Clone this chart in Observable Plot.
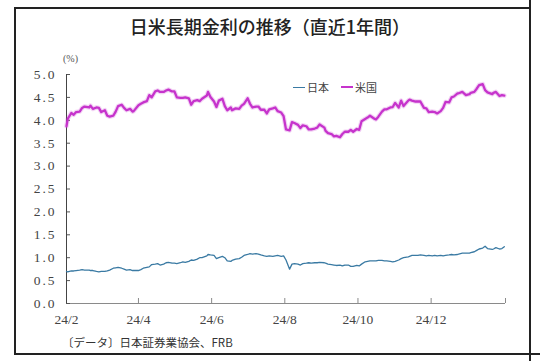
<!DOCTYPE html>
<html>
<head>
<meta charset="utf-8">
<script src="https://cdn.jsdelivr.net/npm/d3@7"></script>
<script src="https://cdn.jsdelivr.net/npm/@observablehq/plot@0.6"></script>
<style>
  html, body { margin: 0; padding: 0; background: #fff; }
  #wrap { position: relative; width: 540px; height: 361px; overflow: hidden; background: #fff; }
  #chart { position: absolute; left: 0; top: 0; }
  .title { position: absolute; left: 0; width: 540px; top: 13px; text-align: center;
           font-family: "Noto Sans CJK JP", sans-serif; font-size: 18px; font-weight: 500; color: #222; line-height: 26px; }
  .caption { position: absolute; left: 62px; top: 334px; font-family: "Noto Sans CJK JP", serif;
             font-size: 11.5px; color: #333; line-height: 16px; }
  .unit { position: absolute; left: 63px; top: 53px; font-family: "Liberation Serif", serif; font-size: 10px; color: #555; }
  .legend { position: absolute; top: 80px; left: 293px; font-family: "Noto Sans CJK JP", sans-serif; font-size: 11px; color: #444;
            display: flex; align-items: center; line-height: 14px; }
  .legend .sw { display: inline-block; width: 12px; margin-right: 2px; }
  .hl { position: absolute; background: #222; }
  #chart text { font-family: "Liberation Serif", "DejaVu Serif", serif; }
  .yax text { letter-spacing: 2px; }
</style>
</head>
<body>
<div id="wrap">
  <div class="hl" style="left:14px; top:7px; width:516px; height:1.5px;"></div>
  <div class="hl" style="left:14px; top:7px; width:1.5px; height:348px;"></div>
  <div class="hl" style="left:529px; top:0px; width:1.5px; height:361px;"></div>
  <div class="hl" style="left:14px; top:353px; width:526px; height:1.5px;"></div>
  <div id="chart"></div>
  <div class="title">日米長期金利の推移（直近1年間）</div>
  <div class="unit">(%)</div>
  <div class="legend" id="legend"></div>
  <div class="caption">〔データ〕日本証券業協会、FRB</div>
</div>
<script>
// ---- data ----
const dates = [
  "2024-02-01","2024-02-02","2024-02-05","2024-02-07","2024-02-09","2024-02-12","2024-02-14","2024-02-16","2024-02-20","2024-02-21","2024-02-23","2024-02-26","2024-02-28",
  "2024-03-01","2024-03-04","2024-03-06","2024-03-08","2024-03-11","2024-03-13","2024-03-15","2024-03-18","2024-03-20","2024-03-22","2024-03-25","2024-03-27","2024-03-28",
  "2024-04-01","2024-04-03","2024-04-05","2024-04-08","2024-04-10","2024-04-12","2024-04-15","2024-04-17","2024-04-19","2024-04-22","2024-04-24","2024-04-26","2024-04-29",
  "2024-05-01","2024-05-03","2024-05-06","2024-05-08","2024-05-10","2024-05-13","2024-05-15","2024-05-17","2024-05-20","2024-05-22","2024-05-24","2024-05-28","2024-05-29","2024-05-31",
  "2024-06-03","2024-06-05","2024-06-07","2024-06-10","2024-06-12","2024-06-14","2024-06-17","2024-06-18","2024-06-21","2024-06-24","2024-06-26","2024-06-28",
  "2024-07-01","2024-07-03","2024-07-05","2024-07-08","2024-07-10","2024-07-12","2024-07-15","2024-07-17","2024-07-19","2024-07-22","2024-07-24","2024-07-26","2024-07-29","2024-07-31",
  "2024-08-02","2024-08-05","2024-08-07","2024-08-09","2024-08-12","2024-08-14","2024-08-16","2024-08-19","2024-08-21","2024-08-23","2024-08-26","2024-08-28","2024-08-30",
  "2024-09-03","2024-09-04","2024-09-06","2024-09-09","2024-09-11","2024-09-13","2024-09-16","2024-09-18","2024-09-20","2024-09-23","2024-09-25","2024-09-27","2024-09-30",
  "2024-10-02","2024-10-04","2024-10-07","2024-10-09","2024-10-11","2024-10-15","2024-10-16","2024-10-18","2024-10-21","2024-10-23","2024-10-25","2024-10-28","2024-10-30",
  "2024-11-01","2024-11-04","2024-11-06","2024-11-08","2024-11-12","2024-11-13","2024-11-15","2024-11-18","2024-11-20","2024-11-22","2024-11-25","2024-11-27","2024-11-29",
  "2024-12-02","2024-12-04","2024-12-06","2024-12-09","2024-12-11","2024-12-13","2024-12-16","2024-12-18","2024-12-20","2024-12-23","2024-12-24","2024-12-27","2024-12-30",
  "2025-01-02","2025-01-03","2025-01-06","2025-01-08","2025-01-10","2025-01-13","2025-01-15","2025-01-17","2025-01-21","2025-01-22","2025-01-24","2025-01-27","2025-01-29","2025-01-31"
];
const usYield = [
  3.87,4.03,4.16,4.12,4.18,4.19,4.27,4.30,4.28,4.32,4.25,4.28,4.27,
  4.18,4.22,4.10,4.08,4.10,4.19,4.31,4.34,4.27,4.22,4.25,4.19,4.20,
  4.33,4.36,4.39,4.42,4.55,4.50,4.63,4.65,4.62,4.62,4.65,4.67,4.63,
  4.63,4.50,4.49,4.49,4.50,4.48,4.34,4.42,4.44,4.42,4.47,4.54,4.62,4.51,
  4.41,4.29,4.43,4.47,4.31,4.22,4.28,4.22,4.26,4.25,4.32,4.36,
  4.48,4.36,4.28,4.30,4.30,4.23,4.23,4.15,4.24,4.26,4.28,4.20,4.17,4.09,
  3.80,3.78,3.96,3.94,3.90,3.83,3.89,3.87,3.80,3.80,3.82,3.84,3.91,
  3.84,3.77,3.72,3.70,3.65,3.66,3.63,3.70,3.75,3.75,3.79,3.75,3.81,
  3.79,3.98,4.03,4.06,4.10,4.03,4.02,4.08,4.19,4.24,4.24,4.28,4.29,
  4.38,4.28,4.43,4.31,4.43,4.45,4.43,4.41,4.41,4.41,4.27,4.26,4.18,
  4.19,4.18,4.15,4.20,4.27,4.40,4.39,4.50,4.52,4.59,4.59,4.62,4.55,
  4.57,4.60,4.62,4.69,4.77,4.79,4.66,4.61,4.57,4.60,4.62,4.53,4.55,4.54
];
const jpYield = [
  0.70,0.69,0.71,0.71,0.72,0.73,0.74,0.73,0.73,0.72,0.72,0.70,0.69,
  0.70,0.70,0.71,0.73,0.77,0.78,0.79,0.77,0.75,0.73,0.74,0.72,0.72,
  0.72,0.74,0.77,0.79,0.80,0.85,0.86,0.87,0.84,0.86,0.89,0.90,0.88,
  0.88,0.87,0.89,0.91,0.90,0.92,0.95,0.94,0.97,1.00,1.00,1.04,1.07,1.06,
  1.05,0.98,1.00,1.03,1.00,0.93,0.92,0.94,0.97,0.98,1.01,1.05,
  1.07,1.09,1.08,1.09,1.08,1.06,1.04,1.03,1.04,1.03,1.04,1.05,1.03,1.04,
  0.95,0.75,0.86,0.87,0.86,0.84,0.87,0.88,0.89,0.88,0.89,0.89,0.90,
  0.89,0.88,0.86,0.85,0.84,0.83,0.84,0.82,0.84,0.84,0.81,0.81,0.83,
  0.82,0.86,0.91,0.92,0.93,0.93,0.93,0.94,0.94,0.93,0.93,0.92,0.91,
  0.92,0.95,0.98,1.00,1.02,1.03,1.05,1.05,1.05,1.06,1.05,1.04,1.05,
  1.04,1.05,1.04,1.05,1.04,1.05,1.06,1.07,1.06,1.07,1.08,1.10,1.10,
  1.10,1.11,1.13,1.16,1.19,1.21,1.25,1.20,1.18,1.19,1.22,1.19,1.20,1.24
];
const seriesNames = ["日本", "米国"];
const seriesColors = ["#3a7aa3", "#c633cc"];
const xTickDates = ["2024-02-01","2024-04-01","2024-06-01","2024-08-01","2024-10-01","2024-12-01","2025-02-01"];
const xTickLabels = ["24/2","24/4","24/6","24/8","24/10","24/12",""];
const yTicks = [0,0.5,1,1.5,2,2.5,3,3.5,4,4.5,5];

// ---- build ----
const parse = d3.utcParse("%Y-%m-%d");
const jp = dates.map((d, i) => ({date: parse(d), v: jpYield[i]}));
const us = dates.map((d, i) => ({date: parse(d), v: usYield[i]}));
const tickD = xTickDates.map(parse);
const labelMap = new Map(tickD.map((d, i) => [+d, xTickLabels[i]]));

const W = 540, H = 361, mL = 66, mR = 35, mT = 74, mB = 58;
const frameW = W - mL - mR, frameH = H - mT - mB;

const plot = Plot.plot({
  width: W, height: H,
  marginLeft: mL, marginRight: mR, marginTop: mT, marginBottom: mB,
  style: {background: "transparent", fontSize: "13px", color: "#444"},
  x: {type: "utc", domain: [tickD[0], tickD[tickD.length - 1]]},
  y: {domain: [0, 5]},
  marks: [
    Plot.ruleY([0], {stroke: "#8a8a8a", strokeWidth: 1}),
    Plot.tickX(tickD, {x: d => d, stroke: "#8a8a8a", insetTop: frameH - 5}),
    Plot.tickY(yTicks, {y: d => d, stroke: "#555", insetRight: frameW - 4}),
    Plot.ruleX([tickD[0]], {stroke: "#444", strokeWidth: 1}),
    Plot.axisX({ticks: tickD, tickSize: 0, tickPadding: 11, tickFormat: d => labelMap.get(+d), fill: "#444", fontSize: 13.5, label: null}),
    Plot.axisY({ticks: yTicks, tickSize: 0, tickPadding: 10, tickFormat: d => d.toFixed(1), fill: "#444", fontSize: 13.5, label: null, className: "yax"}),
    Plot.line(us, {x: "date", y: "v", stroke: seriesColors[1], strokeWidth: 4.5, strokeOpacity: 0.22}),
    Plot.line(us, {x: "date", y: "v", stroke: seriesColors[1], strokeWidth: 2.3}),
    Plot.line(jp, {x: "date", y: "v", stroke: seriesColors[0], strokeWidth: 1.3})
  ]
});
document.getElementById("chart").appendChild(plot);

// legend
const lg = document.getElementById("legend");
seriesNames.forEach((n, i) => {
  const item = document.createElement("span");
  item.style.display = "inline-flex";
  item.style.alignItems = "center";
  item.style.marginRight = i === 0 ? "12px" : "0";
  const sw = document.createElement("span");
  sw.className = "sw";
  sw.style.borderTop = (i === 0 ? 1.5 : 2.5) + "px solid " + seriesColors[i];
  item.appendChild(sw);
  const t = document.createElement("span");
  t.textContent = n;
  item.appendChild(t);
  lg.appendChild(item);
});
</script>
</body>
</html>
